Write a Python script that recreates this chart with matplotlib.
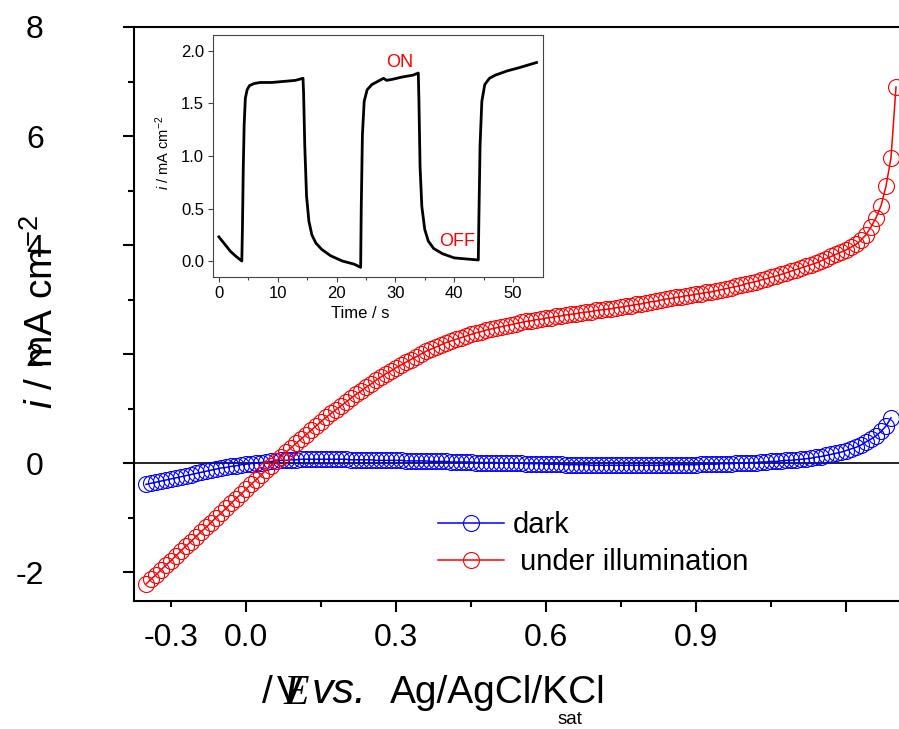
import numpy as np
import matplotlib
matplotlib.use("Agg")
import matplotlib.pyplot as plt

plt.rcParams['font.family'] = ['Liberation Sans', 'DejaVu Sans']
plt.rcParams['mathtext.fontset'] = 'custom'
plt.rcParams['mathtext.rm'] = 'Liberation Sans'
plt.rcParams['mathtext.it'] = 'Liberation Sans:italic'

W, H = 899, 729

# potential sweep (V, as labelled on the axis), 10 mV steps
potential = np.round(np.arange(-0.20, 1.305, 0.01), 2)

# current density, mA cm^-2, dark scan
dark = [-0.39, -0.37, -0.35, -0.33, -0.31, -0.29, -0.27, -0.25, -0.23, -0.21,
        -0.19, -0.17, -0.15, -0.13, -0.11, -0.09, -0.08, -0.06, -0.05, -0.03,
        -0.02, -0.01, 0.00, 0.01, 0.02, 0.03, 0.04, 0.05, 0.05, 0.06,
        0.06, 0.07, 0.07, 0.07, 0.07, 0.07, 0.07, 0.07, 0.07, 0.07,
        0.07, 0.06, 0.06, 0.06, 0.06, 0.06, 0.05, 0.05, 0.05, 0.05,
        0.05, 0.05, 0.04, 0.04, 0.04, 0.04, 0.04, 0.03, 0.03, 0.03,
        0.03, 0.02, 0.02, 0.02, 0.02, 0.02, 0.01, 0.01, 0.01, 0.01,
        0.01, 0.00, 0.00, 0.00, 0.00, 0.00, -0.01, -0.01, -0.01, -0.01,
        -0.02, -0.02, -0.02, -0.02, -0.03, -0.03, -0.03, -0.03, -0.03, -0.04,
        -0.04, -0.04, -0.04, -0.04, -0.04, -0.04, -0.04, -0.04, -0.04, -0.04,
        -0.04, -0.04, -0.04, -0.04, -0.03, -0.03, -0.03, -0.03, -0.03, -0.03,
        -0.03, -0.02, -0.02, -0.02, -0.02, -0.01, -0.01, -0.01, 0.00, 0.00,
        0.00, 0.01, 0.01, 0.02, 0.02, 0.03, 0.03, 0.04, 0.05, 0.05,
        0.06, 0.07, 0.08, 0.09, 0.11, 0.12, 0.14, 0.16, 0.18, 0.20,
        0.23, 0.26, 0.29, 0.33, 0.39, 0.44, 0.50, 0.58, 0.68, 0.83]

# current density, mA cm^-2, under illumination
light = [-2.22, -2.13, -2.05, -1.96, -1.87, -1.79, -1.70, -1.61, -1.52, -1.44,
         -1.35, -1.26, -1.18, -1.09, -1.00, -0.92, -0.83, -0.74, -0.65, -0.57,
         -0.48, -0.39, -0.31, -0.22, -0.13, -0.05, 0.04, 0.12, 0.20, 0.28,
         0.36, 0.44, 0.52, 0.60, 0.68, 0.76, 0.84, 0.91, 0.98, 1.05,
         1.12, 1.19, 1.26, 1.32, 1.39, 1.45, 1.52, 1.58, 1.64, 1.69,
         1.75, 1.80, 1.85, 1.90, 1.95, 2.00, 2.05, 2.09, 2.13, 2.17,
         2.21, 2.24, 2.27, 2.30, 2.33, 2.36, 2.39, 2.41, 2.44, 2.46,
         2.48, 2.50, 2.52, 2.54, 2.56, 2.58, 2.60, 2.61, 2.63, 2.64,
         2.66, 2.67, 2.69, 2.70, 2.72, 2.73, 2.74, 2.76, 2.77, 2.78,
         2.80, 2.81, 2.82, 2.83, 2.85, 2.86, 2.88, 2.89, 2.91, 2.92,
         2.94, 2.96, 2.97, 2.99, 3.01, 3.02, 3.04, 3.05, 3.07, 3.08,
         3.10, 3.11, 3.13, 3.14, 3.16, 3.18, 3.20, 3.22, 3.24, 3.26,
         3.29, 3.31, 3.33, 3.36, 3.38, 3.41, 3.43, 3.46, 3.49, 3.52,
         3.55, 3.58, 3.61, 3.64, 3.67, 3.71, 3.75, 3.79, 3.83, 3.87,
         3.91, 3.96, 4.01, 4.09, 4.19, 4.33, 4.50, 4.72, 5.08, 5.60,
         6.90]

# inset: chopped-light transient
time_s = [0, 1, 2, 3, 3.9, 4.0, 4.15, 4.3, 4.5, 4.8, 5.2, 6, 7, 9, 11, 13, 14.3,
          14.4, 14.6, 14.9, 15.3, 15.8, 16.5, 17.5, 19, 21, 23, 24.1,
          24.2, 24.4, 24.7, 25.2, 26, 27, 28, 28.5, 29.5, 31, 33, 33.9,
          34.0, 34.2, 34.5, 35, 35.6, 36.5, 38, 40, 42, 44.1,
          44.2, 44.4, 44.7, 45.2, 46, 47, 49, 51, 54]
photocurrent = [0.23, 0.16, 0.09, 0.04, 0.00, 0.30, 0.90, 1.30, 1.55, 1.63, 1.67, 1.69, 1.70, 1.70, 1.71, 1.72, 1.74,
                1.60, 1.10, 0.62, 0.38, 0.25, 0.17, 0.11, 0.05, 0.00, -0.03, -0.06,
                0.50, 1.20, 1.52, 1.63, 1.68, 1.71, 1.74, 1.72, 1.73, 1.75, 1.77, 1.79,
                1.55, 0.90, 0.52, 0.30, 0.19, 0.12, 0.07, 0.03, 0.02, 0.01,
                0.40, 1.10, 1.52, 1.68, 1.74, 1.77, 1.81, 1.84, 1.89]


def fx(px):
    return px / W


def fy(py):
    return 1 - py / H


fig = plt.figure(figsize=(W / 100, H / 100), dpi=100)

# main axes (right edge runs past the image edge like in the original)
ax = fig.add_axes([fx(134), fy(601), (910 - 134) / W, (601 - 27) / H])
ax.axhline(0, color='black', lw=1.2, zorder=1)
ax.plot(potential[:len(dark)], dark, color='blue', lw=1.1, marker='o', ms=11.5,
        mfc='none', mec='blue', mew=0.8, label='dark', zorder=2)
ax.plot(potential[:len(light)], light, color='red', lw=1.1, marker='o', ms=11.5,
        mfc='none', mec='red', mew=0.8, label=' under illumination', zorder=3)

ax.set_xlim(-0.224, 1.328)
ax.set_ylim(-2.53, 8.0)
ax.spines['right'].set_visible(False)
for s in ['left', 'bottom', 'top']:
    ax.spines[s].set_linewidth(1.5)

ax.set_xticks([0.0, 0.3, 0.6, 0.9, 1.2])
ax.set_xticklabels(['0.0', '0.3', '0.6', '0.9', ''])
ax.set_xticks([-0.15, 0.15, 0.45, 0.75, 1.05], minor=True)
ax.set_xticklabels(['-0.3', '', '', '', ''], minor=True)
ax.set_yticks([-2, 0, 2, 4, 6, 8])
ax.set_yticklabels(['-2', '0', '2', '4', '6', '8'])
ax.set_yticks([-1, 1, 3, 5, 7], minor=True)
ax.tick_params(which='both', direction='out', width=1.5, labelsize=23)
ax.tick_params(axis='x', which='major', length=8, pad=8)
ax.tick_params(axis='x', which='minor', length=4.3, pad=11.7)
ax.tick_params(axis='y', which='major', length=8, pad=57)
ax.tick_params(axis='y', which='minor', length=4.3)

ax.legend(loc='upper left', bbox_to_anchor=(fx(438), fy(511)),
          bbox_transform=fig.transFigure, frameon=False, fontsize=21,
          handlelength=2.25, handletextpad=0.3, labelspacing=0.32,
          borderpad=0, borderaxespad=0, numpoints=1)

# axis labels (overlapping pieces, as in the original)
fig.text(fx(42), fy(312), r'$i$ / mA cm$^{-2}$', rotation=90, fontsize=28,
         ha='center', va='center')
fig.text(fx(262), fy(703), '/', fontsize=28, va='baseline')
fig.text(fx(277), fy(703), 'V', fontsize=28, va='baseline')
fig.text(fx(283), fy(704), 'E', fontsize=30, va='baseline',
         family='Liberation Serif', style='italic')
fig.text(fx(312), fy(703), 'vs.', fontsize=31, va='baseline', style='italic')
fig.text(fx(390), fy(703), 'Ag/AgCl/KCl', fontsize=28, va='baseline')
fig.text(fx(558), fy(724), 'sat', fontsize=13.5, va='baseline')

# inset
axin = fig.add_axes([fx(213), fy(277), 330 / W, 242 / H])
axin.plot(time_s, photocurrent, color='black', lw=2)
axin.set_xlim(-1.0, 55.1)
axin.set_ylim(-0.152, 2.152)
axin.set_xticks([0, 10, 20, 30, 40, 50])
axin.set_xticks([5, 15, 25, 35, 45], minor=True)
axin.set_yticks([0.0, 0.5, 1.0, 1.5, 2.0])
axin.set_yticklabels(['0.0', '0.5', '1.0', '1.5', '2.0'])
for s in axin.spines.values():
    s.set_linewidth(0.8)
    s.set_color('#444444')
axin.tick_params(which='both', direction='out', width=0.8, color='#444444',
                 labelsize=12, pad=3)
axin.tick_params(which='major', length=3.5)
axin.tick_params(which='minor', length=2)
axin.text(30.8, 1.886, 'ON', color='red', fontsize=13, ha='center', va='center')
axin.text(40.5, 0.19, 'OFF', color='red', fontsize=13, ha='center', va='center')
fig.text(fx(360), fy(314), 'Time / s', fontsize=12, ha='center', va='center')
fig.text(fx(163), fy(153), r'$i$ / mA cm$^{-2}$', rotation=90, fontsize=10.5,
         ha='center', va='center')

fig.savefig('out.png', dpi=100)
